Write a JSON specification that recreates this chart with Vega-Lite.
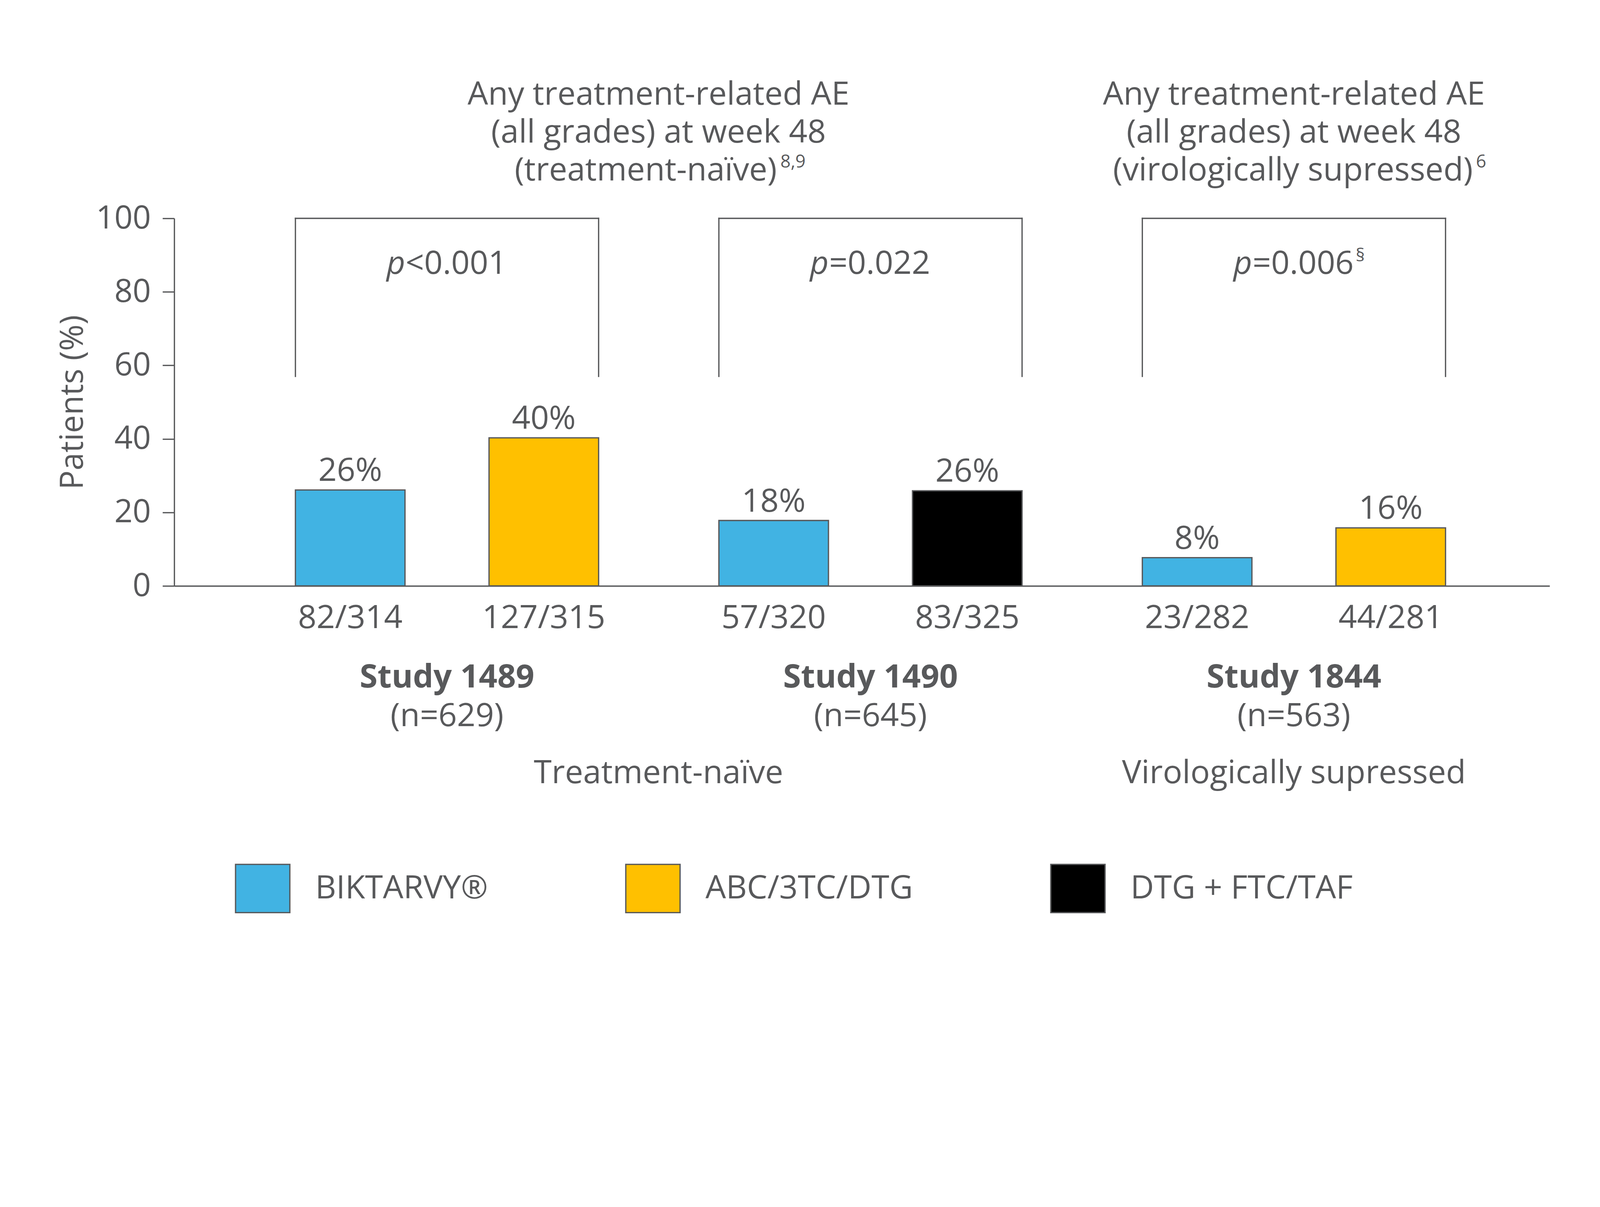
{
  "$schema": "https://vega.github.io/schema/vega-lite/v6.json",
  "autosize": {"type": "none"},
  "width": 3521,
  "height": 941,
  "padding": {"left": 446, "top": 559, "right": 133, "bottom": 1034},
  "background": "white",
  "config": {
    "view": {"stroke": null},
    "font": "Open Sans",
    "text": {"font": "Open Sans", "fontSize": 83, "color": "#58595B"}
  },
  "datasets": {
    "bars": [
      {"study": "Study 1489", "arm": "A", "regimen": "BIKTARVY®", "value": 26.1, "label": "26%", "nN": "82/314"},
      {"study": "Study 1489", "arm": "B", "regimen": "ABC/3TC/DTG", "value": 40.3, "label": "40%", "nN": "127/315"},
      {"study": "Study 1490", "arm": "A", "regimen": "BIKTARVY®", "value": 17.8, "label": "18%", "nN": "57/320"},
      {"study": "Study 1490", "arm": "B", "regimen": "DTG + FTC/TAF", "value": 25.9, "label": "26%", "nN": "83/325"},
      {"study": "Study 1844", "arm": "A", "regimen": "BIKTARVY®", "value": 7.7, "label": "8%", "nN": "23/282"},
      {"study": "Study 1844", "arm": "B", "regimen": "ABC/3TC/DTG", "value": 15.8, "label": "16%", "nN": "44/281"}
    ],
    "studies": [
      {"study": "Study 1489", "n": "(n=629)", "p": "<0.001", "sup": ""},
      {"study": "Study 1490", "n": "(n=645)", "p": "=0.022", "sup": ""},
      {"study": "Study 1844", "n": "(n=563)", "p": "=0.006", "sup": "§"}
    ]
  },
  "layer": [
    {
      "data": {"name": "bars"},
      "mark": {"type": "bar", "stroke": "#58595B", "strokeWidth": 3.3},
      "encoding": {
        "x": {"field": "study", "type": "nominal",
              "scale": {"type": "band", "domain": ["Study 1489", "Study 1490", "Study 1844"], "paddingInner": 0.284, "paddingOuter": 0.266, "align": 0.538},
              "axis": {"labels": false, "ticks": false, "title": null, "domainColor": "#58595B", "domainWidth": 3.3, "grid": false}},
        "xOffset": {"field": "arm", "type": "nominal", "scale": {"domain": ["A", "B"], "paddingInner": 0.434, "paddingOuter": 0}},
        "y": {"field": "value", "type": "quantitative",
              "scale": {"domain": [0, 100], "nice": false, "zero": true},
              "axis": {"values": [0, 20, 40, 60, 80, 100], "grid": false, "title": "Patients (%)",
                       "domainColor": "#58595B", "domainWidth": 3.3, "tickColor": "#58595B", "tickWidth": 3.3, "tickSize": 30,
                       "labelFont": "Open Sans", "labelFontSize": 82, "labelColor": "#58595B", "labelPadding": 30,
                       "titleFont": "Open Sans", "titleFontSize": 82, "titleFontWeight": "normal", "titleColor": "#58595B", "titlePadding": 18}},
        "color": {"field": "regimen", "type": "nominal",
                  "scale": {"domain": ["BIKTARVY®", "ABC/3TC/DTG", "DTG + FTC/TAF"], "range": ["#41B3E3", "#FFC000", "#000000"]},
                  "legend": {"title": null, "orient": "none", "legendX": 155, "legendY": 1644, "direction": "horizontal",
                             "symbolType": "M-1,-0.888H1V0.888H-1Z", "symbolSize": 19321, "symbolStrokeColor": "#58595B", "symbolStrokeWidth": 3.3,
                             "symbolOpacity": 1, "labelFont": "Open Sans", "labelFontSize": 83, "labelColor": "#58595B",
                             "labelOffset": 63, "columnPadding": 346, "labelLimit": 1000}}
      }
    },
    {
      "data": {"name": "bars"},
      "mark": {"type": "text", "baseline": "alphabetic", "dy": -23},
      "encoding": {
        "x": {"field": "study", "type": "nominal"},
        "xOffset": {"field": "arm", "type": "nominal"},
        "y": {"field": "value", "type": "quantitative"},
        "text": {"field": "label"}
      }
    },
    {
      "data": {"name": "bars"},
      "mark": {"type": "text", "baseline": "middle", "dy": 83},
      "encoding": {
        "x": {"field": "study", "type": "nominal"},
        "xOffset": {"field": "arm", "type": "nominal"},
        "y": {"datum": 0},
        "text": {"field": "nN"}
      }
    },
    {
      "data": {"name": "studies"},
      "mark": {"type": "rule", "stroke": "#58595B", "strokeWidth": 3.3, "strokeCap": "square"},
      "encoding": {
        "x": {"field": "study", "type": "nominal", "bandPosition": 0},
        "x2": {"field": "study", "bandPosition": 1},
        "y": {"datum": 100}
      }
    },
    {
      "data": {"name": "studies"},
      "mark": {"type": "rule", "stroke": "#58595B", "strokeWidth": 3.3, "strokeCap": "square"},
      "encoding": {
        "x": {"field": "study", "type": "nominal", "bandPosition": 0},
        "y": {"datum": 57},
        "y2": {"datum": 100}
      }
    },
    {
      "data": {"name": "studies"},
      "mark": {"type": "rule", "stroke": "#58595B", "strokeWidth": 3.3, "strokeCap": "square"},
      "encoding": {
        "x": {"field": "study", "type": "nominal", "bandPosition": 1},
        "y": {"datum": 57},
        "y2": {"datum": 100}
      }
    },
    {
      "data": {"name": "studies"},
      "mark": {"type": "text", "baseline": "middle", "align": "right", "fontStyle": "italic", "dx": -107},
      "encoding": {
        "x": {"field": "study", "type": "nominal"},
        "y": {"datum": 87.6},
        "text": {"value": "p"}
      }
    },
    {
      "data": {"name": "studies"},
      "mark": {"type": "text", "baseline": "middle", "align": "left", "dx": -106},
      "encoding": {
        "x": {"field": "study", "type": "nominal"},
        "y": {"datum": 87.6},
        "text": {"field": "p"}
      }
    },
    {
      "data": {"name": "studies"},
      "mark": {"type": "text", "baseline": "middle", "align": "left", "dx": 158, "dy": -21, "fontSize": 46},
      "encoding": {
        "x": {"field": "study", "type": "nominal"},
        "y": {"datum": 87.6},
        "text": {"field": "sup"}
      }
    },
    {
      "data": {"name": "studies"},
      "mark": {"type": "text", "baseline": "middle", "fontWeight": "bold", "dy": 235},
      "encoding": {
        "x": {"field": "study", "type": "nominal"},
        "y": {"datum": 0},
        "text": {"field": "study"}
      }
    },
    {
      "data": {"name": "studies"},
      "mark": {"type": "text", "baseline": "middle", "dy": 334},
      "encoding": {
        "x": {"field": "study", "type": "nominal"},
        "y": {"datum": 0},
        "text": {"field": "n"}
      }
    },
    {
      "data": {"values": [{"study": "Study 1490", "footer": "Treatment-naïve", "header": ["Any treatment-related AE", "(all grades) at week 48"], "line3": "(treatment-naïve)", "sup": "8,9"}]},
      "layer": [
        {
          "mark": {"type": "text", "baseline": "middle", "dy": 480},
          "encoding": {
            "x": {"field": "study", "type": "nominal", "bandPosition": -0.199},
            "y": {"datum": 0},
            "text": {"field": "footer"}
          }
        },
        {
          "mark": {"type": "text", "baseline": "middle", "dy": -316, "lineHeight": 97},
          "encoding": {
            "x": {"field": "study", "type": "nominal", "bandPosition": -0.199},
            "y": {"datum": 100},
            "text": {"field": "header"}
          }
        },
        {
          "mark": {"type": "text", "baseline": "middle", "align": "right", "dx": 303, "dy": -122},
          "encoding": {
            "x": {"field": "study", "type": "nominal", "bandPosition": -0.199},
            "y": {"datum": 100},
            "text": {"field": "line3"}
          }
        },
        {
          "mark": {"type": "text", "baseline": "middle", "align": "left", "dx": 312, "dy": -144, "fontSize": 46},
          "encoding": {
            "x": {"field": "study", "type": "nominal", "bandPosition": -0.199},
            "y": {"datum": 100},
            "text": {"field": "sup"}
          }
        }
      ]
    },
    {
      "data": {"values": [{"study": "Study 1844", "footer": "Virologically supressed", "header": ["Any treatment-related AE", "(all grades) at week 48"], "line3": "(virologically supressed)", "sup": "6"}]},
      "layer": [
        {
          "mark": {"type": "text", "baseline": "middle", "dy": 480},
          "encoding": {
            "x": {"field": "study", "type": "nominal"},
            "y": {"datum": 0},
            "text": {"field": "footer"}
          }
        },
        {
          "mark": {"type": "text", "baseline": "middle", "dy": -316, "lineHeight": 97},
          "encoding": {
            "x": {"field": "study", "type": "nominal"},
            "y": {"datum": 100},
            "text": {"field": "header"}
          }
        },
        {
          "mark": {"type": "text", "baseline": "middle", "align": "right", "dx": 458, "dy": -122},
          "encoding": {
            "x": {"field": "study", "type": "nominal"},
            "y": {"datum": 100},
            "text": {"field": "line3"}
          }
        },
        {
          "mark": {"type": "text", "baseline": "middle", "align": "left", "dx": 466, "dy": -144, "fontSize": 46},
          "encoding": {
            "x": {"field": "study", "type": "nominal"},
            "y": {"datum": 100},
            "text": {"field": "sup"}
          }
        }
      ]
    }
  ]
}
